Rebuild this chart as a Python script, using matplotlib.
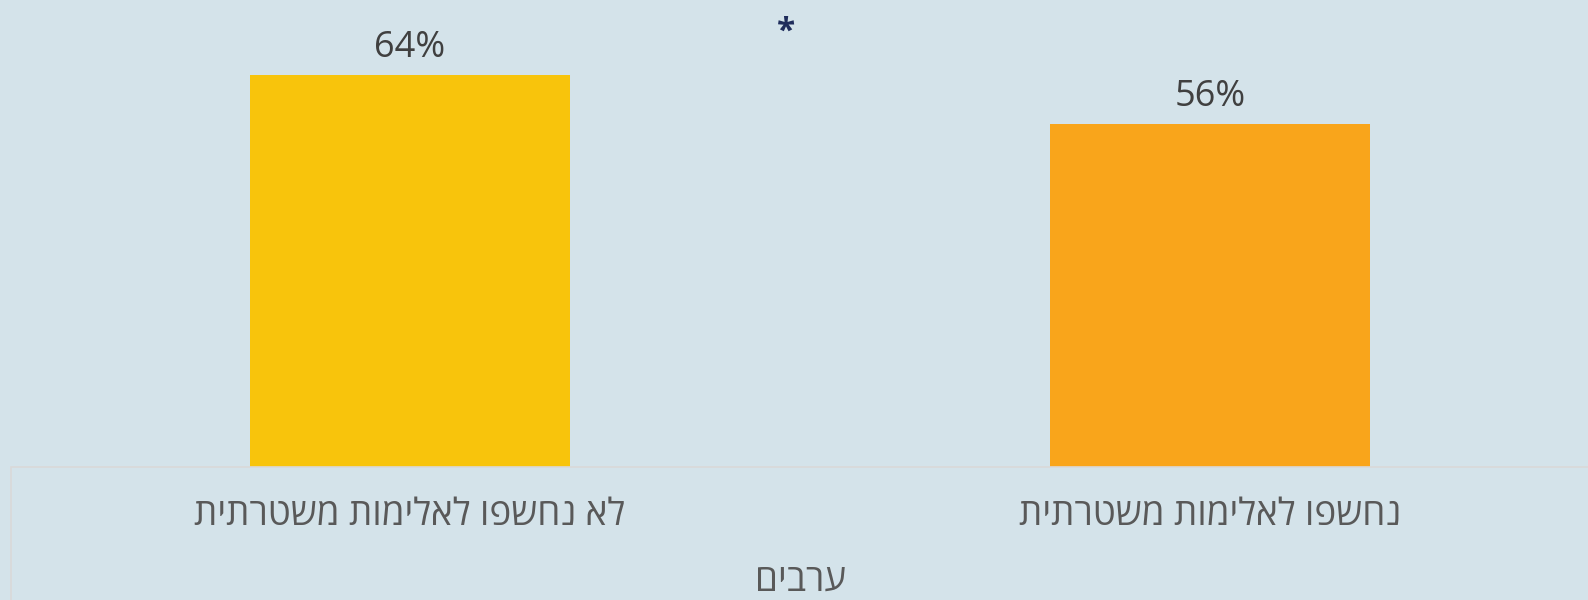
import matplotlib.pyplot as plt
from matplotlib.patches import Rectangle

# data (logical Hebrew order; reversed for display since matplotlib has no bidi)
categories = ['לא נחשפו לאלימות משטרתית', 'נחשפו לאלימות משטרתית']
values = [64, 56]
group_label = 'ערבים'
bar_colors = ['#f8c40c', '#f9a51b']

bg = '#d4e3ea'
plt.rcParams['font.family'] = ['Open Sans', 'DejaVu Sans']


def visual(s):
    return s[::-1]


W, H = 1588, 600
fig = plt.figure(figsize=(W / 100, H / 100), dpi=100)
fig.patch.set_facecolor(bg)

# axes: plot area from x=10 px to right edge, from top to y=467 px
ax = fig.add_axes([10 / W, (H - 467) / H, (W - 10) / W, 467 / H])
ax.set_facecolor(bg)
x = list(range(len(values)))
bars = ax.bar(x, values, width=0.4, color=bar_colors)
ax.set_xlim(-0.5, -0.5 + (W - 10) / 800)
ax.set_ylim(0, 467 / 6.125)
for b, v in zip(bars, values):
    ax.text(b.get_x() + b.get_width() / 2, v + 3.0, f'{v}%', ha='center',
            va='baseline', fontsize=26, color='#404040')
for s in ax.spines.values():
    s.set_visible(False)
ax.set_xticks([])
ax.set_yticks([])

# category box below the bars
fig.patches.append(Rectangle((11 / W, -0.1), 1.1, (H - 467) / H + 0.1,
                             transform=fig.transFigure, fill=False,
                             edgecolor='#d9d9d9', linewidth=1.2))
for xi, cat in zip(x, categories):
    xp = ax.transData.transform((xi, 0))[0] / W
    fig.text(xp, 1 - 516 / H, visual(cat), ha='center', va='center',
             fontsize=26.5, color='#595959')
fig.text(800 / W, 1 - 582 / H, visual(group_label), ha='center', va='center',
         fontsize=26.5, color='#595959')

# significance marker
fig.text(786 / W, 1 - 32 / H, '*', ha='center', va='center', fontsize=24,
         fontweight='bold', color='#1f2d5c')

plt.savefig('out.png', dpi=100, facecolor=bg)
